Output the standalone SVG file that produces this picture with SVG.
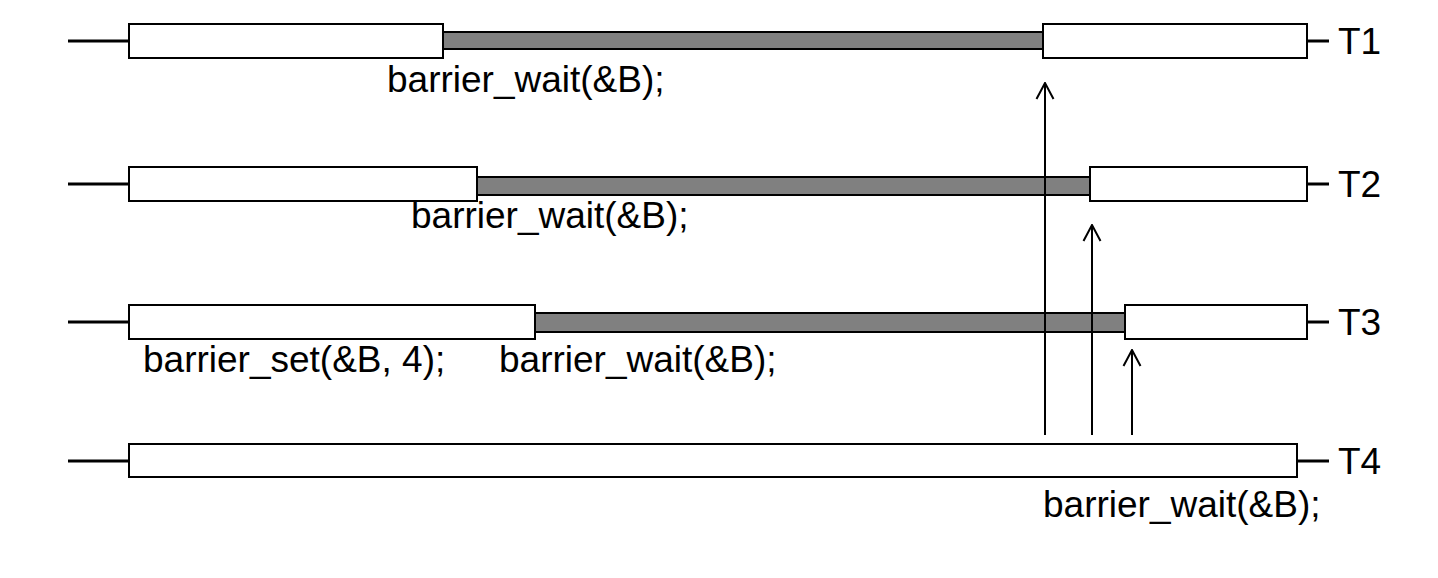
<svg xmlns="http://www.w3.org/2000/svg" width="1438" height="578" viewBox="0 0 1438 578">
  <defs>
    <style>
      .box { fill: #ffffff; stroke: #000000; stroke-width: 2; }
      .wait { fill: #808080; stroke: #000000; stroke-width: 2; }
      .lead { stroke: #000000; stroke-width: 3; fill: none; }
      .conn { stroke: #000000; stroke-width: 2; fill: none; }
      .lbl { font-family: "Liberation Sans", Arial, Helvetica, sans-serif; font-size: 37px; fill: #000000; }
    </style>
    <marker id="openArrow" viewBox="0 0 20 20" refX="19" refY="10" markerWidth="20" markerHeight="20" markerUnits="userSpaceOnUse" orient="auto">
      <path d="M3,1.5 L19,10 L3,18.5" fill="none" stroke="#000000" stroke-width="2"/>
    </marker>
  </defs>
  <rect width="1438" height="578" fill="#ffffff"/>

  <g id="T1">
    <line class="lead" x1="68" y1="41" x2="129" y2="41"/>
    <line class="lead" x1="1307" y1="41" x2="1329" y2="41"/>
    <rect class="wait" x="443" y="32" width="600" height="17"/>
    <rect class="box" x="129" y="24" width="314" height="34"/>
    <rect class="box" x="1043" y="24" width="264" height="34"/>
    <text class="lbl" x="1338" y="54">T1</text>
    <text class="lbl" x="387" y="92">barrier_wait(&amp;B);</text>
  </g>

  <g id="T2">
    <line class="lead" x1="68" y1="184" x2="129" y2="184"/>
    <line class="lead" x1="1307" y1="184" x2="1329" y2="184"/>
    <rect class="wait" x="477" y="177" width="613" height="18"/>
    <rect class="box" x="129" y="167" width="348" height="34"/>
    <rect class="box" x="1090" y="167" width="217" height="34"/>
    <text class="lbl" x="1338" y="197">T2</text>
    <text class="lbl" x="411" y="228">barrier_wait(&amp;B);</text>
  </g>

  <g id="T3">
    <line class="lead" x1="68" y1="322" x2="129" y2="322"/>
    <line class="lead" x1="1307" y1="322" x2="1329" y2="322"/>
    <rect class="wait" x="535" y="313" width="590" height="19"/>
    <rect class="box" x="129" y="305" width="406" height="34"/>
    <rect class="box" x="1125" y="305" width="182" height="34"/>
    <text class="lbl" x="1338" y="335">T3</text>
    <text class="lbl" x="143" y="372">barrier_set(&amp;B, 4);</text>
    <text class="lbl" x="499" y="372">barrier_wait(&amp;B);</text>
  </g>

  <g id="T4">
    <line class="lead" x1="68" y1="461" x2="129" y2="461"/>
    <line class="lead" x1="1297" y1="461" x2="1329" y2="461"/>
    <rect class="box" x="129" y="444" width="1168" height="33"/>
    <text class="lbl" x="1338" y="474">T4</text>
    <text class="lbl" x="1043" y="517">barrier_wait(&amp;B);</text>
  </g>

  <g id="connectors">
    <line class="conn" x1="1045" y1="435" x2="1045" y2="83" marker-end="url(#openArrow)"/>
    <line class="conn" x1="1092" y1="435" x2="1092" y2="225" marker-end="url(#openArrow)"/>
    <line class="conn" x1="1132" y1="435" x2="1132" y2="350" marker-end="url(#openArrow)"/>
  </g>
</svg>
